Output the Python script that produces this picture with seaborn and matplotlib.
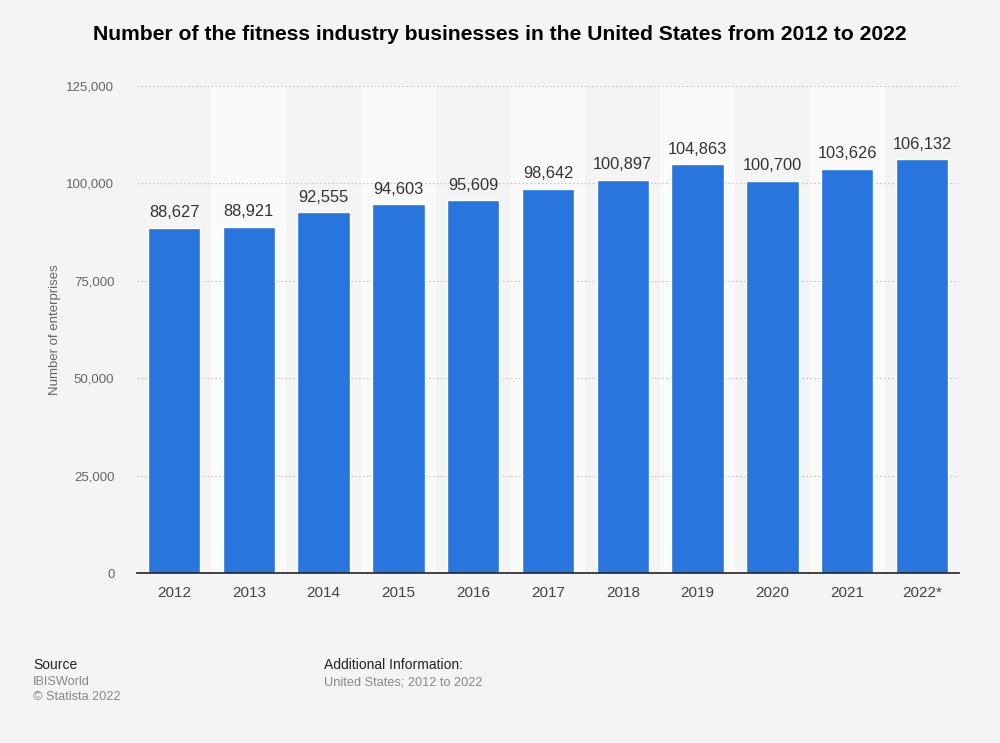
import matplotlib
matplotlib.use("Agg")
import matplotlib.pyplot as plt
import seaborn as sns
import pandas as pd

years = ["2012", "2013", "2014", "2015", "2016", "2017", "2018", "2019", "2020", "2021", "2022*"]
enterprises = [88627, 88921, 92555, 94603, 95609, 98642, 100897, 104863, 100700, 103626, 106132]
y_ticks = [0, 25000, 50000, 75000, 100000, 125000]

df = pd.DataFrame({"year": years, "value": enterprises})

sns.set_theme(style="white")
plt.rcParams["font.family"] = ["Liberation Sans", "DejaVu Sans"]

BG = "#f4f4f4"
fig = plt.figure(figsize=(10, 7.43), dpi=100, facecolor=BG)
ax = fig.add_axes([0.1366, 0.2288, 0.8228, 0.6555])
ax.set_facecolor(BG)

# alternating column bands
for i in range(len(years)):
    if i % 2 == 1:
        ax.axvspan(i - 0.5, i + 0.5, color="#fafafa", zorder=0, lw=0)

sns.barplot(data=df, x="year", y="value", color="#2876dd", saturation=1,
            width=0.7, ax=ax, zorder=3)

ax.set_ylim(0, 125000)
ax.set_xlim(-0.5, len(years) - 0.5)
ax.set_yticks(y_ticks)
ax.set_yticklabels([f"{v:,}" for v in y_ticks], color="#666666", fontsize=9.5)
ax.tick_params(axis="y", length=0, pad=16)
ax.tick_params(axis="x", length=0, pad=9, labelsize=11, labelcolor="#444444")
for v in y_ticks[1:]:
    ax.axhline(v, color="#c8c8c8", lw=0.8, ls=(0, (1.5, 2)), zorder=1)

for s in ["top", "right", "left"]:
    ax.spines[s].set_visible(False)
ax.spines["bottom"].set_color("#222222")
ax.spines["bottom"].set_linewidth(1.2)
ax.spines["bottom"].set_zorder(5)

for i, v in enumerate(enterprises):
    ax.text(i, v + 2000, f"{v:,}", ha="center", va="bottom", fontsize=11.8, color="#333333", zorder=6)

ax.set_xlabel("")
ax.set_ylabel("Number of enterprises", color="#666666", fontsize=9.5, labelpad=4)

fig.text(0.5, 0.954, "Number of the fitness industry businesses in the United States from 2012 to 2022",
         ha="center", va="center", fontsize=15.2, fontweight="bold", color="#000000")

fig.text(0.033, 0.105, "Source", ha="left", va="center", fontsize=10, color="#222222")
fig.text(0.033, 0.082, "IBISWorld", ha="left", va="center", fontsize=9.2, color="#888888")
fig.text(0.033, 0.062, "© Statista 2022", ha="left", va="center", fontsize=9.2, color="#888888")
fig.text(0.324, 0.105, "Additional Information:", ha="left", va="center", fontsize=10, color="#222222")
fig.text(0.324, 0.082, "United States; 2012 to 2022", ha="left", va="center", fontsize=9.2, color="#888888")

fig.savefig("out.png", dpi=100, facecolor=BG)
